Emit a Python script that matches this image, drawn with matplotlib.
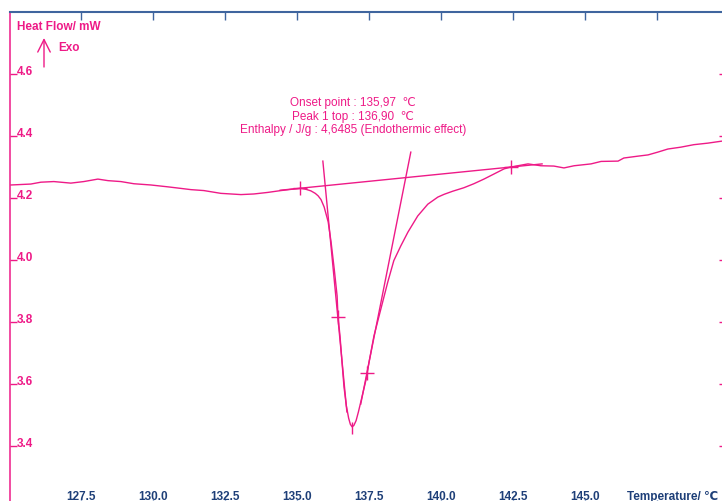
import matplotlib
matplotlib.use("Agg")
import matplotlib.pyplot as plt

# DSC trace (temperature in C, heat flow in mW)
temp = [125.05, 125.74, 126.09, 126.54, 127.13, 127.58, 128.07, 128.42, 128.87, 129.32,
        129.91, 130.50, 130.95, 131.30, 131.75, 132.34, 133.04, 133.49, 133.97, 134.43,
        134.88, 135.13, 135.30, 135.47, 135.62, 135.72, 135.82, 135.93, 136.07, 136.17,
        136.28, 136.38, 136.41, 136.48, 136.55, 136.62, 136.70, 136.78, 136.84, 136.90,
        136.96, 137.04, 137.12, 137.21, 137.39, 137.49, 137.66, 137.90, 138.14, 138.35,
        138.59, 138.84, 139.18, 139.53, 139.88, 140.10, 140.40, 140.78, 141.13, 141.48,
        141.82, 142.18, 142.42, 143.01, 143.46, 143.91, 144.26, 144.61, 145.20, 145.55,
        146.14, 146.34, 146.83, 147.18, 147.52, 147.87, 148.32, 148.77, 149.26, 149.71,
        150.00]
heat_flow = [4.242, 4.245, 4.251, 4.253, 4.248, 4.253, 4.261, 4.256, 4.253, 4.246,
             4.242, 4.236, 4.231, 4.227, 4.224, 4.215, 4.211, 4.213, 4.218, 4.224,
             4.229, 4.231, 4.228, 4.223, 4.215, 4.207, 4.195, 4.171, 4.123, 4.058,
             3.971, 3.884, 3.819, 3.755, 3.671, 3.590, 3.530, 3.490, 3.470, 3.462,
             3.466, 3.482, 3.510, 3.545, 3.616, 3.671, 3.755, 3.842, 3.929, 3.998,
             4.045, 4.090, 4.142, 4.180, 4.203, 4.212, 4.222, 4.233, 4.246, 4.261,
             4.277, 4.294, 4.300, 4.310, 4.304, 4.303, 4.297, 4.304, 4.310, 4.318,
             4.319, 4.329, 4.335, 4.339, 4.348, 4.358, 4.364, 4.372, 4.377, 4.383,
             4.386]

# construction lines
baseline_t = [134.4, 143.5]
baseline_hf = [4.225, 4.310]
left_tan_t = [135.885, 136.72]
left_tan_hf = [4.319, 3.510]
right_tan_t = [138.94, 137.20]
right_tan_hf = [4.348, 3.535]

# markers
cross_t = [135.09, 136.41, 137.43, 142.42]
cross_hf = [4.232, 3.816, 3.635, 4.300]
peak_t = [136.90]
peak_hf = [3.458]

xticks = [127.5, 130.0, 132.5, 135.0, 137.5, 140.0, 142.5, 145.0, 147.5]
xlabels = ["127.5", "130.0", "132.5", "135.0", "137.5", "140.0", "142.5", "145.0", ""]
yticks = [3.4, 3.6, 3.8, 4.0, 4.2, 4.4, 4.6]
ylabels = ["3.4", "3.6", "3.8", "4.0", "4.2", "4.4", "4.6"]

info = ("Onset point : 135,97  \u2103\n"
        "Peak 1 top : 136,90  \u2103\n"
        "Enthalpy / J/g : 4,6485 (Endothermic effect)")

pink = "#EE1A87"
blue = "#3F659E"
navy = "#1E3F78"

plt.rcParams["font.family"] = ["Liberation Sans", "DejaVu Sans"]

fig = plt.figure(figsize=(7.22, 5.02), dpi=100)
ax = fig.add_axes([9.5 / 722, -7 / 502, 719.7 / 722, 496 / 502])
ax.set_xlim(125, 150)
ax.set_ylim(3.2, 4.8)

ax.plot(temp, heat_flow, color=pink, lw=1.0)
ax.plot(baseline_t, baseline_hf, color=pink, lw=1.0)
ax.plot(left_tan_t, left_tan_hf, color=pink, lw=1.0)
ax.plot(right_tan_t, right_tan_hf, color=pink, lw=1.0)
ax.plot(cross_t, cross_hf, ls="none", marker="+", ms=9.5, mew=1.0, color=pink)
ax.plot(peak_t, peak_hf, ls="none", marker="|", ms=9, mew=1.0, color=pink)

for s in ["right", "bottom"]:
    ax.spines[s].set_visible(False)
ax.spines["left"].set_color(pink)
ax.spines["left"].set_linewidth(1.1)
ax.spines["top"].set_color(blue)
ax.spines["top"].set_linewidth(1.5)

ax.set_yticks(yticks, labels=ylabels, fontweight="bold", ha="left", va="baseline")
ax.tick_params(axis="y", direction="in", length=5, width=1, color=pink,
               left=True, right=True, labelleft=True, labelright=False,
               pad=-5.2, labelcolor=pink, labelsize=8.5)
# right-hand ticks reach a bit further in (spine sits just off the canvas)
for t in ax.yaxis.get_major_ticks():
    t.tick2line.set_markersize(7)
ax.set_xticks(xticks, labels=xlabels, fontweight="bold", va="baseline")
ax.tick_params(axis="x", direction="in", length=6, width=1, color=blue,
               top=True, bottom=True, pad=-6.5, labelcolor=navy, labelsize=8.5)

ax.text(136.93, 4.466, info, ha="center", va="center", color=pink, fontsize=8.5,
        linespacing=1.15)

fig.text(17 / 722, 475 / 502, "Heat Flow/ mW", color=pink, fontsize=8.5,
         fontweight="bold", va="center", ha="left")
fig.text(58 / 722, 454 / 502, "Exo", color=pink, fontsize=8.5,
         fontweight="bold", va="center", ha="left")
ax.annotate("", xy=(44, 463), xytext=(44, 434), xycoords="figure pixels",
            arrowprops=dict(arrowstyle="->,head_length=0.9,head_width=0.45",
                            color=pink, lw=1.0, shrinkA=0, shrinkB=0))
fig.text(718 / 722, 2 / 502, "Temperature/ \u2103", color=navy, fontsize=8.5,
         fontweight="bold", ha="right", va="baseline")

fig.savefig("out.png", dpi=100)
